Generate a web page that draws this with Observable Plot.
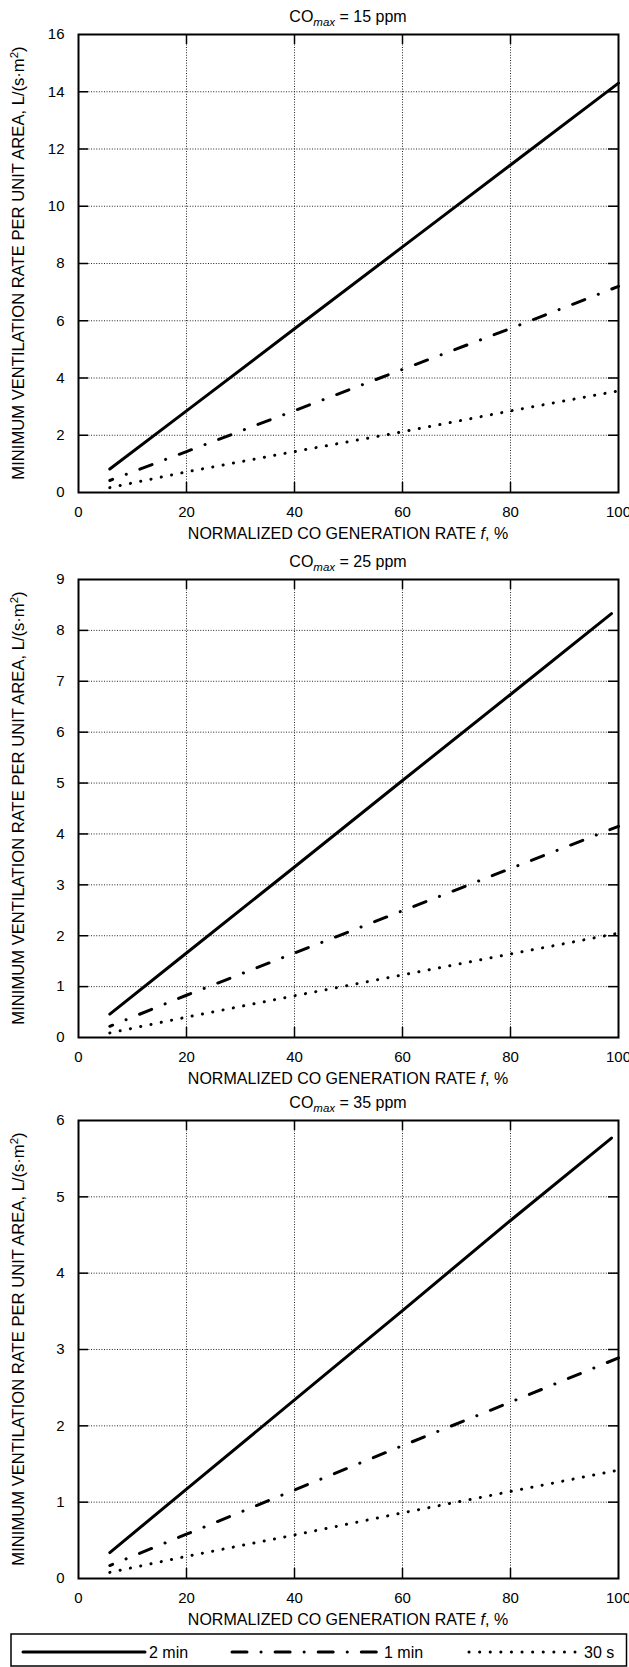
<!DOCTYPE html>
<html><head><meta charset="utf-8">
<script src="https://cdn.jsdelivr.net/npm/d3@7"></script>
<script src="https://cdn.jsdelivr.net/npm/@observablehq/plot@0.6"></script>
<style>
body{margin:0;background:#fff;}
svg{display:block;}
#wrap{width:629px;}
</style></head><body><div id="wrap"></div>
<script>
// ---- data ----
const ppmLabels = ["15", "25", "35"];
const yMaxes = [16, 9, 6];
const yTickSets = [[0,2,4,6,8,10,12,14,16],[0,1,2,3,4,5,6,7,8,9],[0,1,2,3,4,5,6]];
const xTicks = [0,20,40,60,80,100];
const seriesNames = ["2 min", "1 min", "30 s"];

// normalized CO generation rate f, %
const fFull = [5.8, 20, 40, 60, 80, 100];
const fShort = [5.8, 20, 40, 60, 80, 98.7];

// CO max = 15 ppm
const v15_2min = [0.82, 2.85, 5.72, 8.58, 11.44, 14.3];
const v15_1min = [0.42, 1.43, 2.86, 4.3, 5.73, 7.2];
const v15_30s  = [0.17, 0.72, 1.43, 2.12, 2.85, 3.55];
// CO max = 25 ppm
const v25_2min = [0.46, 1.66, 3.35, 5.05, 6.74, 8.33];
const v25_1min = [0.22, 0.83, 1.66, 2.49, 3.32, 4.15];
const v25_30s  = [0.09, 0.40, 0.82, 1.23, 1.64, 2.05];
// CO max = 35 ppm
const v35_2min = [0.34, 1.17, 2.34, 3.51, 4.69, 5.77];
const v35_1min = [0.17, 0.58, 1.16, 1.74, 2.31, 2.89];
const v35_30s  = [0.08, 0.29, 0.57, 0.86, 1.14, 1.42];

const panelSeries = [
  [[fFull, v15_2min], [fFull, v15_1min], [fFull, v15_30s]],
  [[fShort, v25_2min], [fFull, v25_1min], [fFull, v25_30s]],
  [[fShort, v35_2min], [fFull, v35_1min], [fFull, v35_30s]]
];

// ---- styles ----
const FONT = "'Liberation Sans', Arial, Helvetica, sans-serif";
const lineStyles = [
  {strokeWidth: 3, strokeDasharray: null, strokeDashoffset: 0},
  {strokeWidth: 3, strokeDasharray: "13,14.5,0.1,14.5", strokeDashoffset: 10},
  {strokeWidth: 3, strokeDasharray: "0.1,10.4", strokeDashoffset: 0}
];

const W = 629, ML = 78, MR = 11, FH = 458;
const FW = W - ML - MR;
const heights = [545, 541, 541];
const marginTops = [34, 34, 34];

const wrap = document.getElementById("wrap");

panelSeries.forEach((ser, pi) => {
  const H = heights[pi], MT = marginTops[pi], MB = H - MT - FH;
  const yTicks = yTickSets[pi];
  const marks = [
    Plot.ruleX(xTicks.slice(1, -1), {stroke: "#000", strokeWidth: 1, strokeDasharray: "1,1.6", strokeOpacity: 0.85}),
    Plot.ruleY(yTicks.slice(1, -1), {stroke: "#000", strokeWidth: 1, strokeDasharray: "1,1.6", strokeOpacity: 0.85}),
    // inward ticks
    Plot.tickX(xTicks.slice(1, -1), {x: d => d, stroke: "#000", strokeWidth: 1.5, insetTop: FH - 10}),
    Plot.tickX(xTicks.slice(1, -1), {x: d => d, stroke: "#000", strokeWidth: 1.5, insetBottom: FH - 10}),
    Plot.tickY(yTicks.slice(1, -1), {y: d => d, stroke: "#000", strokeWidth: 1.5, insetRight: FW - 10}),
    Plot.tickY(yTicks.slice(1, -1), {y: d => d, stroke: "#000", strokeWidth: 1.5, insetLeft: FW - 10}),
  ];
  ser.forEach(([xs, ys], si) => {
    const data = xs.map((x, i) => ({f: x, v: ys[i], s: seriesNames[si]}));
    const st = lineStyles[si];
    const opts = {x: "f", y: "v", stroke: "#000", strokeWidth: st.strokeWidth, strokeLinecap: "round", strokeLinejoin: "round"};
    if (st.strokeDasharray) { opts.strokeDasharray = st.strokeDasharray; opts.strokeDashoffset = st.strokeDashoffset; }
    marks.push(Plot.line(data, opts));
  });
  marks.push(Plot.frame({stroke: "#000", strokeWidth: 2}));
  marks.push(Plot.axisX({ticks: xTicks, tickSize: 0, tickPadding: 14, label: null, fontSize: 15, tickFormat: d3.format("d")}));
  marks.push(Plot.axisY({ticks: yTicks, tickSize: 0, tickPadding: 14, label: null, fontSize: 15, tickFormat: d3.format("d")}));

  const chart = Plot.plot({
    width: W, height: H,
    marginLeft: ML, marginRight: MR, marginTop: MT, marginBottom: MB,
    x: {domain: [0, 100], label: null},
    y: {domain: [0, yMaxes[pi]], label: null},
    style: {fontFamily: FONT, fontSize: "15px", color: "#000", background: "#fff", overflow: "visible"},
    marks
  });

  const sx = chart.scale("x"), sy = chart.scale("y");
  const cx = sx.apply(50);
  const cy = (sy.apply(0) + sy.apply(yMaxes[pi])) / 2;
  const bottom = sy.apply(0), top = sy.apply(yMaxes[pi]);
  const svg = d3.select(chart);

  // panel title
  const t = svg.append("text").attr("x", cx).attr("y", top - 12)
    .attr("text-anchor", "middle").attr("font-family", FONT).attr("font-size", 16).attr("fill", "#000");
  t.append("tspan").text("CO");
  t.append("tspan").attr("font-size", 11.5).attr("font-style", "italic").attr("dy", 4).text("max");
  t.append("tspan").attr("dy", -4).text(" = " + ppmLabels[pi] + " ppm");

  // x axis title
  const xt = svg.append("text").attr("x", cx).attr("y", bottom + 46.5)
    .attr("text-anchor", "middle").attr("font-family", FONT).attr("font-size", 16).attr("fill", "#000");
  xt.append("tspan").text("NORMALIZED CO GENERATION RATE ");
  xt.append("tspan").attr("font-style", "italic").text("f");
  xt.append("tspan").text(", %");

  // y axis title
  const yt = svg.append("text").attr("transform", `translate(24,${cy}) rotate(-90)`)
    .attr("text-anchor", "middle").attr("font-family", FONT).attr("font-size", 16.6).attr("fill", "#000");
  yt.append("tspan").text("MINIMUM VENTILATION RATE PER UNIT AREA, L/(s\u00B7m");
  yt.append("tspan").attr("font-size", 11.5).attr("dy", -6).text("2");
  yt.append("tspan").attr("dy", 6).text(")");

  wrap.appendChild(chart);
});

// ---- legend ----
const legendItems = [
  {label: seriesNames[0], x1: 23, x2: 145, tx: 149, dash: null, off: 0, w: 3},
  {label: seriesNames[1], x1: 232, x2: 378, tx: 384, dash: "15,14,0.1,14", off: 0, w: 3},
  {label: seriesNames[2], x1: 469, x2: 575, tx: 584, dash: "0.1,10.5", off: 0, w: 3}
];
const lsvg = d3.select(wrap).append("svg").attr("width", W).attr("height", 40);
lsvg.append("rect").attr("x", 11).attr("y", 7).attr("width", 615.5).attr("height", 32)
  .attr("fill", "#fff").attr("stroke", "#000").attr("stroke-width", 1.5);
legendItems.forEach(it => {
  const ln = lsvg.append("line").attr("x1", it.x1).attr("x2", it.x2).attr("y1", 25).attr("y2", 25)
    .attr("stroke", "#000").attr("stroke-width", it.w).attr("stroke-linecap", "round");
  if (it.dash) ln.attr("stroke-dasharray", it.dash).attr("stroke-dashoffset", it.off);
  lsvg.append("text").attr("x", it.tx).attr("y", 30.5).attr("font-family", FONT).attr("font-size", 16)
    .attr("fill", "#000").text(it.label);
});
</script>
</body></html>
